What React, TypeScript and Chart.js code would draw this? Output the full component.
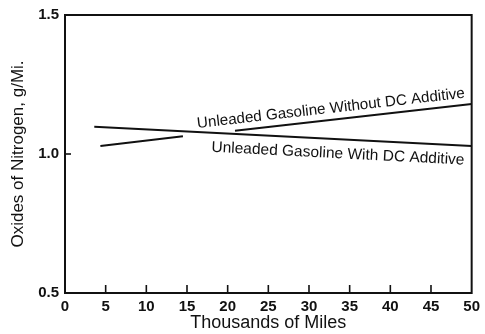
import React, { useEffect, useRef } from "react";
import { Chart, registerables } from "chart.js";

Chart.register(...registerables);

// ---- data ----
const xTickValues = [0, 5, 10, 15, 20, 25, 30, 35, 40, 45, 50];
const yTickValues = [0.5, 1.0, 1.5];

// Unleaded gasoline without DC additive (line is broken where the label sits)
const withoutMiles = [4.35, 14.5, 17.7, 20.9, 50];
const withoutNOx: (number | null)[] = [1.029, 1.064, null, 1.084, 1.18];

// Unleaded gasoline with DC additive
const withMiles = [3.6, 50];
const withNOx = [1.098, 1.029];

const seriesLabels = [
  "Unleaded Gasoline Without DC Additive",
  "Unleaded Gasoline With DC Additive",
];
const labelAnchorMiles = [16.4, 18.1];

const xTitle = "Thousands of Miles";
const yTitle = "Oxides of Nitrogen, g/Mi.";

const INK = "#111";

const frameAndLabels = {
  id: "frameAndLabels",
  afterDatasetsDraw(chart: any) {
    const { ctx, chartArea: a, scales } = chart;
    const xs = scales.x;
    const ys = scales.y;
    ctx.save();
    // frame
    ctx.strokeStyle = INK;
    ctx.lineWidth = 2;
    ctx.strokeRect(a.left, a.top, a.right - a.left, a.bottom - a.top);
    // inner tick marks
    ctx.lineWidth = 1.6;
    xTickValues.forEach((v) => {
      if (v <= 0 || v >= 50) return;
      const px = xs.getPixelForValue(v);
      ctx.beginPath();
      ctx.moveTo(px, a.bottom);
      ctx.lineTo(px, a.bottom - 8);
      ctx.stroke();
    });
    yTickValues.forEach((v) => {
      if (v <= 0.5 || v >= 1.5) return;
      const py = ys.getPixelForValue(v);
      ctx.beginPath();
      ctx.moveTo(a.left, py);
      ctx.lineTo(a.left + 6, py);
      ctx.stroke();
    });
    // line labels
    const lines = [
      { mx: withoutMiles, my: withoutNOx, dy: -7, size: 15.2 },
      { mx: withMiles, my: withNOx, dy: 19, size: 15.5 },
    ];
    ctx.fillStyle = INK;
    ctx.textAlign = "left";
    ctx.textBaseline = "alphabetic";
    lines.forEach((ln, i) => {
      const x0 = ln.mx[0];
      const y0 = ln.my[0] as number;
      const x1 = ln.mx[ln.mx.length - 1];
      const y1 = ln.my[ln.my.length - 1] as number;
      const px0 = xs.getPixelForValue(x0);
      const py0 = ys.getPixelForValue(y0);
      const px1 = xs.getPixelForValue(x1);
      const py1 = ys.getPixelForValue(y1);
      const ang = Math.atan2(py1 - py0, px1 - px0);
      const ax = labelAnchorMiles[i];
      const ay = y0 + ((ax - x0) / (x1 - x0)) * (y1 - y0);
      ctx.save();
      ctx.font = ln.size + "px 'Liberation Sans', Arial, sans-serif";
      ctx.translate(xs.getPixelForValue(ax), ys.getPixelForValue(ay));
      ctx.rotate(ang);
      ctx.fillText(seriesLabels[i], 0, ln.dy);
      ctx.restore();
    });
    ctx.restore();
  },
};

export default function App() {
  const ref = useRef<HTMLCanvasElement>(null);
  useEffect(() => {
    if (!ref.current) return;
    const chart = new Chart(ref.current, {
      type: "line",
      data: {
        datasets: [
          {
            label: seriesLabels[0],
            data: withoutMiles.map((m, i) => ({ x: m, y: withoutNOx[i] })),
            borderColor: INK,
            borderWidth: 2,
            pointRadius: 0,
            spanGaps: false,
            fill: false,
          },
          {
            label: seriesLabels[1],
            data: withMiles.map((m, i) => ({ x: m, y: withNOx[i] })),
            borderColor: INK,
            borderWidth: 2,
            pointRadius: 0,
            fill: false,
          },
        ],
      },
      options: {
        responsive: false,
        animation: false,
        events: [],
        layout: { padding: { top: 13, right: 6, left: 0, bottom: 0 } },
        plugins: {
          legend: { display: false },
          tooltip: { enabled: false },
        },
        scales: {
          x: {
            type: "linear",
            min: 0,
            max: 50,
            afterFit: (s: any) => {
              s.height = 41;
            },
            afterBuildTicks: (s: any) => {
              s.ticks = xTickValues.map((v) => ({ value: v }));
            },
            grid: { display: false, drawTicks: false },
            border: { display: false },
            ticks: {
              color: INK,
              padding: 5,
              maxRotation: 0,
              autoSkip: false,
              font: { family: "'Liberation Sans', Arial, sans-serif", size: 15, weight: "bold" },
            },
            title: {
              display: true,
              text: xTitle,
              color: INK,
              padding: { top: 0, bottom: 0 },
              font: { family: "'Liberation Sans', Arial, sans-serif", size: 18 },
            },
          },
          y: {
            type: "linear",
            min: 0.5,
            max: 1.5,
            afterFit: (s: any) => {
              s.width = 65;
            },
            afterBuildTicks: (s: any) => {
              s.ticks = yTickValues.map((v) => ({ value: v }));
            },
            grid: { display: false, drawTicks: false },
            border: { display: false },
            ticks: {
              color: INK,
              padding: 6,
              callback: (v: any) => Number(v).toFixed(1),
              font: { family: "'Liberation Sans', Arial, sans-serif", size: 15, weight: "bold" },
            },
            title: {
              display: true,
              text: yTitle,
              color: INK,
              padding: { top: 8, bottom: 0 },
              font: { family: "'Liberation Sans', Arial, sans-serif", size: 17 },
            },
          },
        },
      },
      plugins: [frameAndLabels],
    });
    return () => chart.destroy();
  }, []);
  return (
    <div style={{ position: "fixed", left: 0, top: 0, width: 485, height: 334, background: "#fff" }}>
      <canvas ref={ref} width={485} height={334} />
    </div>
  );
}
